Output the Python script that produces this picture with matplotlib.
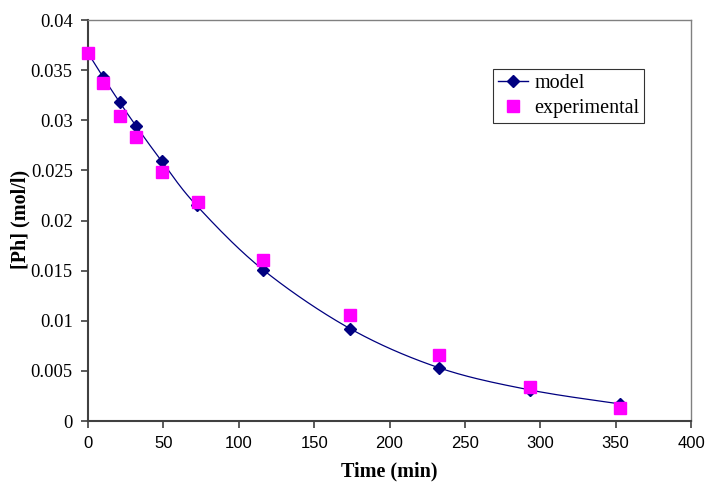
import numpy as np
import matplotlib
matplotlib.use("Agg")
import matplotlib.pyplot as plt
from matplotlib.lines import Line2D

# Data
time_model = [0, 10, 21, 32, 49, 72, 116, 174, 233, 293, 353]
ph_model = [0.0367, 0.0343, 0.0318, 0.0294, 0.0259, 0.0215, 0.0151, 0.0092, 0.0053, 0.0031, 0.0017]
time_exp = [0, 10, 21, 32, 49, 73, 116, 174, 233, 293, 353]
ph_exp = [0.0367, 0.0337, 0.0304, 0.0283, 0.0248, 0.0218, 0.0161, 0.0106, 0.0066, 0.0034, 0.0013]

xticks = [0, 50, 100, 150, 200, 250, 300, 350, 400]
yticks = [0, 0.005, 0.01, 0.015, 0.02, 0.025, 0.03, 0.035, 0.04]
ytick_labels = ["0", "0.005", "0.01", "0.015", "0.02", "0.025", "0.03", "0.035", "0.04"]


def smooth(x, y, n=20):
    # Catmull-Rom style smoothing (like Excel smoothed line)
    x = np.asarray(x, float)
    y = np.asarray(y, float)
    px = np.concatenate([[x[0]], x, [x[-1]]])
    py = np.concatenate([[y[0]], y, [y[-1]]])
    xs, ys = [], []
    for i in range(1, len(px) - 2):
        p0, p1, p2, p3 = (np.array([px[j], py[j]]) for j in (i - 1, i, i + 1, i + 2))
        c1 = p1 + (p2 - p0) / 6
        c2 = p2 - (p3 - p1) / 6
        t = np.linspace(0, 1, n)[:, None]
        pts = (1 - t) ** 3 * p1 + 3 * (1 - t) ** 2 * t * c1 + 3 * (1 - t) * t ** 2 * c2 + t ** 3 * p2
        xs.extend(pts[:, 0])
        ys.extend(pts[:, 1])
    return np.array(xs), np.array(ys)


fig = plt.figure(figsize=(7.09, 4.84), dpi=100)
ax = fig.add_axes([88 / 709, 63 / 484, 603 / 709, 401 / 484])

sx, sy = smooth(time_model, ph_model)
ax.plot(sx, sy, color="#000080", lw=0.9, zorder=2)
ax.plot(time_model, ph_model, linestyle="none", marker="D", markersize=6.5,
        color="#000080", zorder=3, clip_on=False)
ax.plot(time_exp, ph_exp, linestyle="none", marker="s", markersize=8.5,
        color="#FF00FF", zorder=4, clip_on=False)

ax.set_xlim(0, 400)
ax.set_ylim(0, 0.04)
ax.set_xticks(xticks)
ax.set_xticklabels([str(v) for v in xticks], fontfamily="Liberation Sans", fontsize=12)
ax.set_yticks(yticks)
ax.set_yticklabels(ytick_labels, fontfamily="Liberation Serif", fontsize=13.3)
ax.tick_params(direction="out", length=5, width=1.2, color="#404040", pad=6)

for s in ("left", "bottom"):
    ax.spines[s].set_color("#404040")
    ax.spines[s].set_linewidth(1.5)
for s in ("top", "right"):
    ax.spines[s].set_color("#808080")
    ax.spines[s].set_linewidth(1.0)

ax.set_xlabel("Time (min)", fontfamily="Liberation Serif", fontweight="bold", fontsize=14.5)
ax.set_ylabel("[Ph] (mol/l)", fontfamily="Liberation Serif", fontweight="bold", fontsize=14.5)
ax.xaxis.set_label_coords(0.499, (421 - 461) / 401)
ax.yaxis.set_label_coords((30 - 88) / 603, 0.503)

handles = [
    Line2D([], [], color="#000080", lw=1, marker="D", markersize=6.5),
    Line2D([], [], linestyle="none", marker="s", markersize=8.5, color="#FF00FF"),
]
leg = ax.legend(handles, ["model", "experimental"], loc="upper left",
                bbox_to_anchor=((493 - 88) / 603, (421 - 69) / 401),
                prop={"family": "Liberation Serif", "size": 14.5},
                frameon=True, fancybox=False, edgecolor="#000000",
                handlelength=1.5, handletextpad=0.3, borderpad=0.25,
                labelspacing=0.3, borderaxespad=0)
leg.get_frame().set_linewidth(0.8)

fig.savefig("out.png", dpi=100)
